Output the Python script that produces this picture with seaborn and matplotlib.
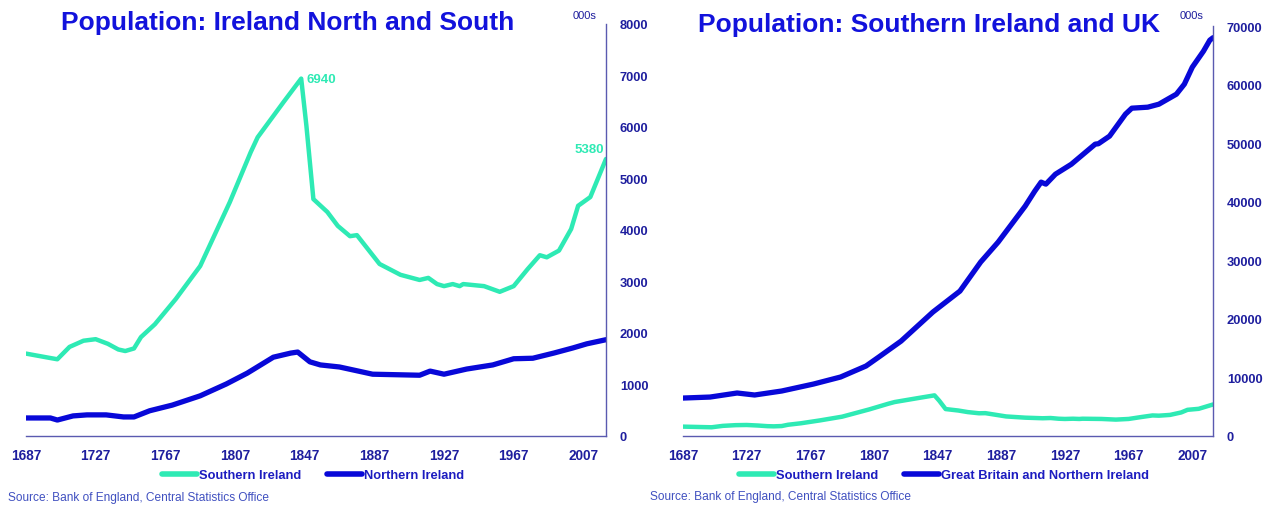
import matplotlib
matplotlib.use("Agg")
import matplotlib.pyplot as plt
import pandas as pd
import seaborn as sns
from matplotlib.lines import Line2D

# ---------------- data (thousands) ----------------
south_years = [1687, 1700, 1705, 1712, 1720, 1727, 1734, 1740, 1744, 1749, 1753, 1761,
               1773, 1787, 1804, 1816, 1820, 1835, 1845, 1848, 1852, 1860, 1866, 1873,
               1877, 1890, 1902, 1913, 1918, 1923, 1927, 1932, 1936, 1938, 1950, 1959,
               1967, 1975, 1982, 1986, 1993, 2000, 2004, 2011, 2020]
south_pop = [1600, 1520, 1490, 1730, 1850, 1880, 1790, 1680, 1650, 1700, 1920, 2170,
             2660, 3300, 4540, 5510, 5800, 6490, 6940, 6020, 4600, 4350, 4080, 3880,
             3900, 3340, 3130, 3030, 3070, 2950, 2910, 2950, 2910, 2950, 2910, 2800,
             2910, 3240, 3510, 3470, 3600, 4020, 4470, 4640, 5380]

north_years = [1687, 1701, 1705, 1714, 1722, 1733, 1743, 1749, 1758, 1771, 1787, 1802,
               1814, 1829, 1839, 1843, 1850, 1856, 1867, 1886, 1913, 1919, 1927, 1940,
               1955, 1967, 1978, 1990, 2001, 2009, 2020]
north_pop = [350, 350, 310, 390, 410, 410, 370, 370, 490, 600, 780, 1010,
             1220, 1530, 1610, 1630, 1440, 1380, 1340, 1200, 1180, 1260, 1200, 1300,
             1380, 1500, 1510, 1610, 1710, 1790, 1870]

gb_years = [1687, 1704, 1721, 1732, 1749, 1769, 1786, 1802, 1810, 1824, 1844, 1861,
            1874, 1885, 1902, 1908, 1912, 1915, 1921, 1931, 1940, 1946, 1948, 1955,
            1965, 1969, 1979, 1986, 1997, 2002, 2007, 2014, 2018, 2020]
gb_pop = [6480, 6650, 7340, 7000, 7680, 8870, 10070, 11950, 13480, 16200, 21160, 24740,
          29690, 33100, 39250, 41800, 43340, 43000, 44700, 46400, 48460, 49830, 49900, 51200,
          54950, 55970, 56140, 56650, 58360, 60070, 62970, 65700, 67580, 68000]

x_ticks = [1687, 1727, 1767, 1807, 1847, 1887, 1927, 1967, 2007]
left_yticks = list(range(0, 8001, 1000))
right_yticks = list(range(0, 70001, 10000))

titles = ["Population: Ireland North and South", "Population: Southern Ireland and UK"]
source = "Source: Bank of England, Central Statistics Office"

# ---------------- style ----------------
sns.set_theme(style="white")
plt.rcParams['font.family'] = ['Liberation Sans', 'DejaVu Sans']

TURQ = '#2EEAB4'
BLUE = '#0808D8'
TITLE_C = '#1212DC'
TICK_C = '#1E1E9E'
SPINE_C = '#5A5AB0'
LEG_C = '#1C1CC0'
SRC_C = '#4050C0'

fig = plt.figure(figsize=(12.67, 5.06), dpi=100)
W, H = 1267, 506

def ax_at(x0, y0, x1, y1):
    return fig.add_axes([x0 / W, 1 - y1 / H, (x1 - x0) / W, (y1 - y0) / H])

axL = ax_at(26, 25, 606, 437)
axR = ax_at(683, 27, 1213, 437)

df_s = pd.DataFrame({"year": south_years, "pop": south_pop})
df_n = pd.DataFrame({"year": north_years, "pop": north_pop})
df_g = pd.DataFrame({"year": gb_years, "pop": gb_pop})

# left chart
sns.lineplot(data=df_s, x="year", y="pop", ax=axL, color=TURQ, lw=3.2, legend=False)
sns.lineplot(data=df_n, x="year", y="pop", ax=axL, color=BLUE, lw=3.8, legend=False)
# right chart
sns.lineplot(data=df_s, x="year", y="pop", ax=axR, color=TURQ, lw=3.2, legend=False)
sns.lineplot(data=df_g, x="year", y="pop", ax=axR, color=BLUE, lw=3.8, legend=False)

for ax, yt, ymax in [(axL, left_yticks, 8000), (axR, right_yticks, 70000)]:
    ax.set_xlim(1687, 2020)
    ax.set_ylim(0, ymax)
    ax.set_xticks(x_ticks)
    ax.set_yticks(yt)
    ax.set_xticklabels([str(v) for v in x_ticks])
    ax.set_yticklabels([str(v) for v in yt])
    ax.yaxis.tick_right()
    ax.set_xlabel("")
    ax.set_ylabel("")
    for s in ["left", "top"]:
        ax.spines[s].set_visible(False)
    for s in ["bottom", "right"]:
        ax.spines[s].set_visible(True)
        ax.spines[s].set_color(SPINE_C)
        ax.spines[s].set_linewidth(1.0)
    ax.tick_params(axis="x", length=0, pad=9, labelsize=9.8, labelcolor=TICK_C)
    ax.tick_params(axis="y", length=0, pad=10, labelsize=9.3, labelcolor=TICK_C)
    for lab in ax.get_xticklabels() + ax.get_yticklabels():
        lab.set_fontweight("bold")
    ax.grid(False)
    ax.set_facecolor("white")

# annotations
axL.text(1848, 6940, "6940", color=TURQ, fontsize=9.5, fontweight="bold",
         ha="left", va="center")
axL.text(2019, 5580, "5380", color=TURQ, fontsize=9.5, fontweight="bold",
         ha="right", va="center")

# titles
fig.text(288 / W, 1 - 23 / H, titles[0], color=TITLE_C, fontsize=19,
         fontweight="bold", ha="center", va="center")
fig.text(929 / W, 1 - 25 / H, titles[1], color=TITLE_C, fontsize=19,
         fontweight="bold", ha="center", va="center")

# units
fig.text(585 / W, 1 - 16 / H, "000s", color=TICK_C, fontsize=8, ha="center", va="center")
fig.text(1192 / W, 1 - 16 / H, "000s", color=TICK_C, fontsize=8, ha="center", va="center")

# legends
def mk_legend(labels, cx):
    handles = [Line2D([], [], color=TURQ, lw=4), Line2D([], [], color=BLUE, lw=4)]
    leg = fig.legend(handles, labels, loc="center", bbox_to_anchor=(cx / W, 1 - 476 / H),
                     ncol=2, frameon=False, handlelength=2.7, handletextpad=0.15,
                     columnspacing=2.0, prop={"weight": "bold", "size": 9.3})
    for t in leg.get_texts():
        t.set_color(LEG_C)

mk_legend(["Southern Ireland", "Northern Ireland"], 313)
mk_legend(["Southern Ireland", "Great Britain and Northern Ireland"], 944)

# sources
fig.text(8 / W, 1 - 498 / H, source, color=SRC_C, fontsize=8.6, ha="left", va="center")
fig.text(650 / W, 1 - 497 / H, source, color=SRC_C, fontsize=8.6, ha="left", va="center")

fig.savefig("out.png", dpi=100, facecolor="white")
